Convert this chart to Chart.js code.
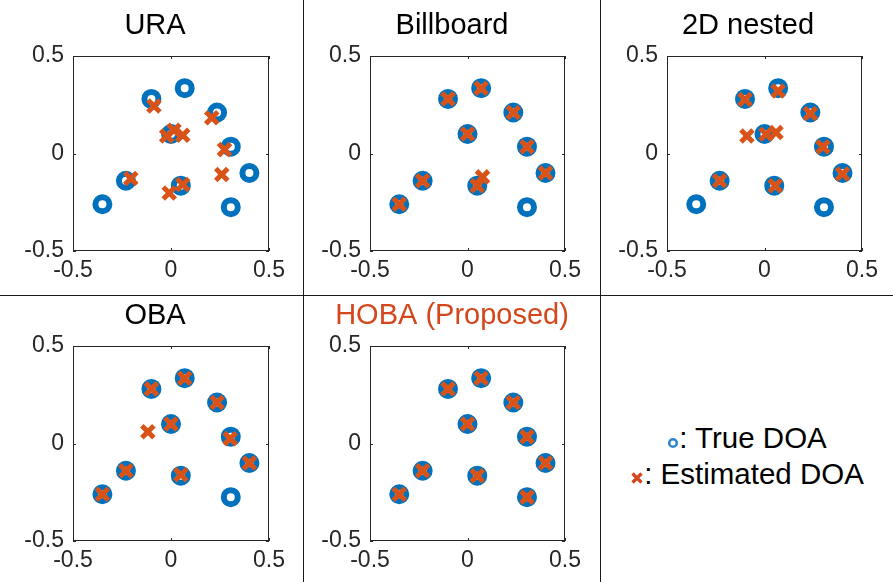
<!DOCTYPE html>
<html>
<head>
<meta charset="utf-8">
<script src="https://cdn.jsdelivr.net/npm/chart.js@4"></script>
<style>
body { margin: 0; background: #fff; }
#wrap { position: relative; width: 893px; height: 582px; overflow: hidden; font-family: 'Liberation Sans', Arial, Helvetica, sans-serif; }
canvas { position: absolute; display: block; }
.sep { position: absolute; background: #1a1a1a; }
#legend { position: absolute; left: 601px; top: 420px; width: 292px; text-align: center; font-size: 29.5px; line-height: 36px; color: #000; white-space: nowrap; }
#legend svg { vertical-align: -1px; }
</style>
</head>
<body>
<div id="wrap">
    <canvas id="ura" width="300" height="294" style="left:0px;top:0px"></canvas>
    <canvas id="billboard" width="296" height="294" style="left:304px;top:0px"></canvas>
    <canvas id="nested" width="292" height="294" style="left:601px;top:0px"></canvas>
    <canvas id="oba" width="300" height="285" style="left:0px;top:297px"></canvas>
    <canvas id="hoba" width="296" height="285" style="left:304px;top:297px"></canvas>

    <div class="sep" style="left:303px;top:0;width:1px;height:582px"></div>
    <div class="sep" style="left:600px;top:0;width:1px;height:582px"></div>
    <div class="sep" style="left:0;top:295px;width:893px;height:1px"></div>

    <div id="legend">
        <div><svg width="12" height="12"><circle cx="6" cy="6" r="3.8" fill="none" stroke="#2f86d0" stroke-width="2.6"/></svg>: True DOA</div>
        <div><svg width="14" height="14"><path d="M2.5 2.5 L11.5 11.5 M11.5 2.5 L2.5 11.5" stroke="#d4461c" stroke-width="3.2"/></svg>: Estimated DOA</div>
    </div>
</div>
<script>
const tickValues = [-0.5, 0, 0.5];
const tickLabels = ["-0.5", "0", "0.5"];

// true directions (same in every panel)
const trueX = [-0.35, -0.23, -0.10, 0.00, 0.07, 0.05, 0.235, 0.305, 0.40, 0.305];
const trueY = [-0.26, -0.14, 0.28, 0.10, 0.335, -0.165, 0.21, 0.035, -0.10, -0.275];

// estimated directions per array
const uraX = [-0.087, -0.022, 0.015, 0.060, 0.208, 0.273, 0.259, -0.205, 0.060, -0.009];
const uraY = [0.244, 0.090, 0.119, 0.094, 0.183, 0.020, -0.108, -0.128, -0.159, -0.203];

const billboardX = [-0.35, -0.23, -0.10, 0.00, 0.07, 0.05, 0.235, 0.305, 0.40, 0.077];
const billboardY = [-0.26, -0.14, 0.28, 0.10, 0.335, -0.165, 0.21, 0.035, -0.10, -0.12];

const nestedX = [-0.23, -0.10, 0.07, 0.055, 0.235, 0.30, 0.40, -0.09, 0.008, 0.059];
const nestedY = [-0.14, 0.277, 0.321, -0.165, 0.205, 0.034, -0.105, 0.09, 0.099, 0.108];

const obaX = [-0.35, -0.23, -0.10, 0.00, 0.07, 0.05, 0.235, 0.302, 0.40, -0.118];
const obaY = [-0.26, -0.14, 0.28, 0.10, 0.335, -0.16, 0.21, 0.025, -0.10, 0.06];

const hobaX = [-0.35, -0.23, -0.10, 0.00, 0.07, 0.05, 0.235, 0.305, 0.40, 0.305];
const hobaY = [-0.26, -0.14, 0.28, 0.10, 0.335, -0.165, 0.21, 0.035, -0.10, -0.275];

const blue = "#0072bd";
const orange = "#d95319";
const axisColor = "#262626";

Chart.defaults.font.family = "'Liberation Sans', Arial, Helvetica, sans-serif";

const toPoints = (xs, ys) => xs.map((x, i) => ({ x: x, y: ys[i] }));

// matlab style box with small inward ticks
const boxPlugin = {
    id: "box",
    afterDatasetsDraw(chart) {
        const ctx = chart.ctx;
        const a = chart.chartArea;
        const sx = chart.scales.x, sy = chart.scales.y;
        ctx.save();
        ctx.strokeStyle = axisColor;
        ctx.lineWidth = 1;
        ctx.strokeRect(a.left + 0.5, a.top + 0.5, a.right - a.left - 1, a.bottom - a.top - 1);
        ctx.beginPath();
        tickValues.forEach(v => {
            const px = Math.round(sx.getPixelForValue(v)) + 0.5;
            ctx.moveTo(px, a.bottom); ctx.lineTo(px, a.bottom - 3);
            ctx.moveTo(px, a.top); ctx.lineTo(px, a.top + 3);
            const py = Math.round(sy.getPixelForValue(v)) + 0.5;
            ctx.moveTo(a.left, py); ctx.lineTo(a.left + 3, py);
            ctx.moveTo(a.right, py); ctx.lineTo(a.right - 3, py);
        });
        ctx.stroke();
        ctx.restore();
    }
};

function panel(id, title, estX, estY, g) {
    const titleSize = 29;
    const lineH = titleSize * 1.2;
    const padL = Math.max(0, 2 * g.tx - g.W);
    const padR = Math.max(0, g.W - 2 * g.tx);
    const padTop = Math.max(0, g.ty - lineH / 2);
    const padBottom = g.top - padTop - lineH;

    new Chart(document.getElementById(id), {
        type: "scatter",
        plugins: [boxPlugin],
        data: {
            datasets: [
                {
                    label: "True DOA",
                    data: toPoints(trueX, trueY),
                    pointStyle: "circle",
                    pointRadius: 7,
                    pointBorderWidth: 6,
                    pointBorderColor: blue,
                    pointBackgroundColor: "rgba(0,0,0,0)",
                    order: 2
                },
                {
                    label: "Estimated DOA",
                    data: toPoints(estX, estY),
                    pointStyle: "crossRot",
                    pointRadius: 8.5,
                    pointBorderWidth: 5,
                    pointBorderColor: orange,
                    pointBackgroundColor: orange,
                    order: 1
                }
            ]
        },
        options: {
            responsive: false,
            animation: false,
            events: [],
            layout: { padding: { left: padL, right: padR, top: 0, bottom: 0 } },
            plugins: {
                legend: { display: false },
                tooltip: { enabled: false },
                title: {
                    display: true,
                    text: title,
                    color: g.titleColor || "#000",
                    font: { size: titleSize, weight: "normal" },
                    padding: { top: padTop, bottom: padBottom }
                }
            },
            scales: {
                x: {
                    type: "linear",
                    min: -0.5,
                    max: 0.5,
                    afterBuildTicks: s => { s.ticks = tickValues.map(v => ({ value: v })); },
                    ticks: {
                        color: axisColor,
                        font: { size: 23 },
                        padding: 6,
                        maxRotation: 0,
                        autoSkip: false,
                        callback: (v, i) => tickLabels[i]
                    },
                    grid: { display: false, drawTicks: false },
                    border: { display: false },
                    afterFit: s => { s.height = g.H - g.bottom; }
                },
                y: {
                    type: "linear",
                    min: -0.5,
                    max: 0.5,
                    afterBuildTicks: s => { s.ticks = tickValues.map(v => ({ value: v })); },
                    ticks: {
                        color: axisColor,
                        font: { size: 23 },
                        padding: 9,
                        autoSkip: false,
                        callback: (v, i) => tickLabels[i]
                    },
                    grid: { display: false, drawTicks: false },
                    border: { display: false },
                    afterFit: s => { s.width = g.left - padL; }
                },
                y2: {
                    type: "linear",
                    position: "right",
                    display: true,
                    ticks: { display: false },
                    grid: { display: false, drawTicks: false },
                    border: { display: false },
                    afterFit: s => { s.width = g.W - padR - g.right; }
                }
            }
        }
    });
}

panel("ura", "URA", uraX, uraY, { W: 300, H: 294, left: 73, right: 269, top: 56, bottom: 251, tx: 155, ty: 25.5 });
panel("billboard", "Billboard", billboardX, billboardY, { W: 296, H: 294, left: 66, right: 261, top: 56, bottom: 251, tx: 148, ty: 25.5 });
panel("nested", "2D nested", nestedX, nestedY, { W: 292, H: 294, left: 66, right: 261, top: 56, bottom: 251, tx: 147, ty: 25.5 });
panel("oba", "OBA", obaX, obaY, { W: 300, H: 285, left: 73, right: 269, top: 49, bottom: 244, tx: 155, ty: 18.5 });
panel("hoba", "HOBA (Proposed)", hobaX, hobaY, { W: 296, H: 285, left: 66, right: 261, top: 49, bottom: 244, tx: 148, ty: 18.5, titleColor: "#d4461c" });
</script>
</body>
</html>
